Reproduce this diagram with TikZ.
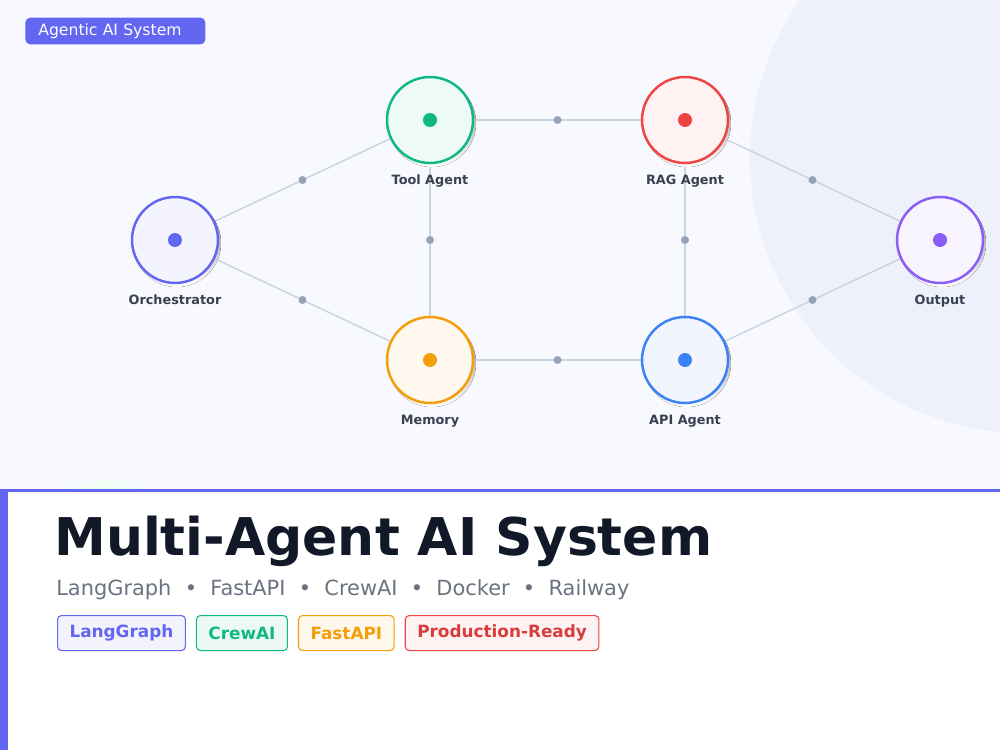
\documentclass[tikz,border=0pt]{standalone}
\usepackage{fontspec}
\setmainfont{DejaVu Sans}
\usetikzlibrary{positioning,backgrounds}
\definecolor{indigo}{HTML}{6366F1}
\definecolor{emerald}{HTML}{10B981}
\definecolor{rose}{HTML}{EF4444}
\definecolor{amber}{HTML}{F59E0B}
\definecolor{sky}{HTML}{3B82F6}
\definecolor{violet}{HTML}{8B5CF6}
\definecolor{canvas}{HTML}{F8F9FE}
\definecolor{halo}{HTML}{EEF1FC}
\definecolor{mint}{HTML}{F1FCF5}
\definecolor{wire}{HTML}{CBD5E1}
\definecolor{hubgray}{HTML}{94A3B8}
\definecolor{shade}{HTML}{E5E9F0}
\definecolor{ink}{HTML}{111827}
\definecolor{labgray}{HTML}{374151}
\definecolor{subgray}{HTML}{6B7280}
\tikzset{
  agent/.style ={circle, minimum size=1.72cm, inner sep=0pt, line width=1.4pt},
  lbl/.style   ={font=\fontsize{7.3}{9}\selectfont\bfseries, text=labgray,
                 anchor=base, inner sep=0pt},
  % thin connector with a grey dot half way
  link/.style  ={draw=wire, line width=0.85pt},
  hub/.style   ={circle, fill=hubgray, minimum size=0.16cm, inner sep=0pt},
  tag/.style   ={rectangle, rounded corners=0.08cm, line width=0.6pt,
                 minimum height=0.7cm, inner xsep=0.24cm,
                 font=\fontsize{9.6}{11}\selectfont\bfseries},
  badge/.style ={rectangle, rounded corners=0.1cm, fill=indigo, text=white,
                 text width=3.08cm, align=left, inner xsep=0.26cm,
                 minimum height=0.52cm, font=\fontsize{8.9}{10}\selectfont},
}
\def\agentlist{orch/175/240/indigo/Orchestrator, tool/430/120/emerald/Tool Agent,
  rag/685/120/rose/RAG Agent, mem/430/360/amber/Memory,
  api/685/360/sky/API Agent, out/940/240/violet/Output}
\def\links{orch/tool, orch/mem, tool/rag, tool/mem, rag/api, mem/api,
  rag/out, api/out}
\begin{document}
\begin{tikzpicture}[x=0.02cm,y=-0.02cm]
\useasboundingbox (0,0) rectangle (1000,750);
\begin{scope}[on background layer]
  \fill[canvas] (0,0) rectangle (1000,490);
  \begin{scope}
    \clip (0,0) rectangle (1000,490);
    \fill[halo] (1025,158) circle (5.5cm);
    \fill[mint] (105,545) circle (1.3cm);
  \end{scope}
  \fill[white] (0,490) rectangle (1000,750);
  \fill[indigo] (0,489) rectangle (1000,492);
  \fill[indigo] (0,489) rectangle (8,750);
\end{scope}

\node[badge, anchor=west] (sysbadge) at (25,31) {Agentic AI System};

\foreach \n/\x/\y/\c/\t in \agentlist {
  \fill[shade] (\x+2,\y+3) circle (0.88cm);
  \node[agent, draw=\c, fill=\c!7] (\n) at (\x,\y) {};
  \fill[\c] (\n.center) circle (0.14cm);
  \node[lbl] (\n-lbl) at (\x,\y+64) {\t};
}
\begin{scope}[on background layer]
  \foreach \a/\b in \links {\draw[link] (\a) -- node[hub] {} (\b);}
\end{scope}

\node[font=\fontsize{29.6}{35}\selectfont\bfseries, text=ink, anchor=base west,
      inner sep=0pt] (title) at (54,555) {Multi-Agent AI System};
\node[font=\fontsize{11.9}{14}\selectfont, text=subgray, anchor=base west,
      inner sep=0pt] (subtitle) at (56,595)
  {LangGraph~~•~~FastAPI~~•~~CrewAI~~•~~Docker~~•~~Railway};

\node[tag, draw=indigo, fill=indigo!8, text=indigo, anchor=north west]
  (tlang) at (57,615) {LangGraph};
\node[tag, draw=emerald, fill=emerald!8, text=emerald, right=0.2cm of tlang]
  (tcrew) {CrewAI};
\node[tag, draw=amber, fill=amber!8, text=amber, right=0.2cm of tcrew]
  (tfast) {FastAPI};
\node[tag, draw=rose, fill=rose!7, text=rose!90!black, right=0.2cm of tfast]
  (tprod) {Production-Ready};
\end{tikzpicture}
\end{document}
